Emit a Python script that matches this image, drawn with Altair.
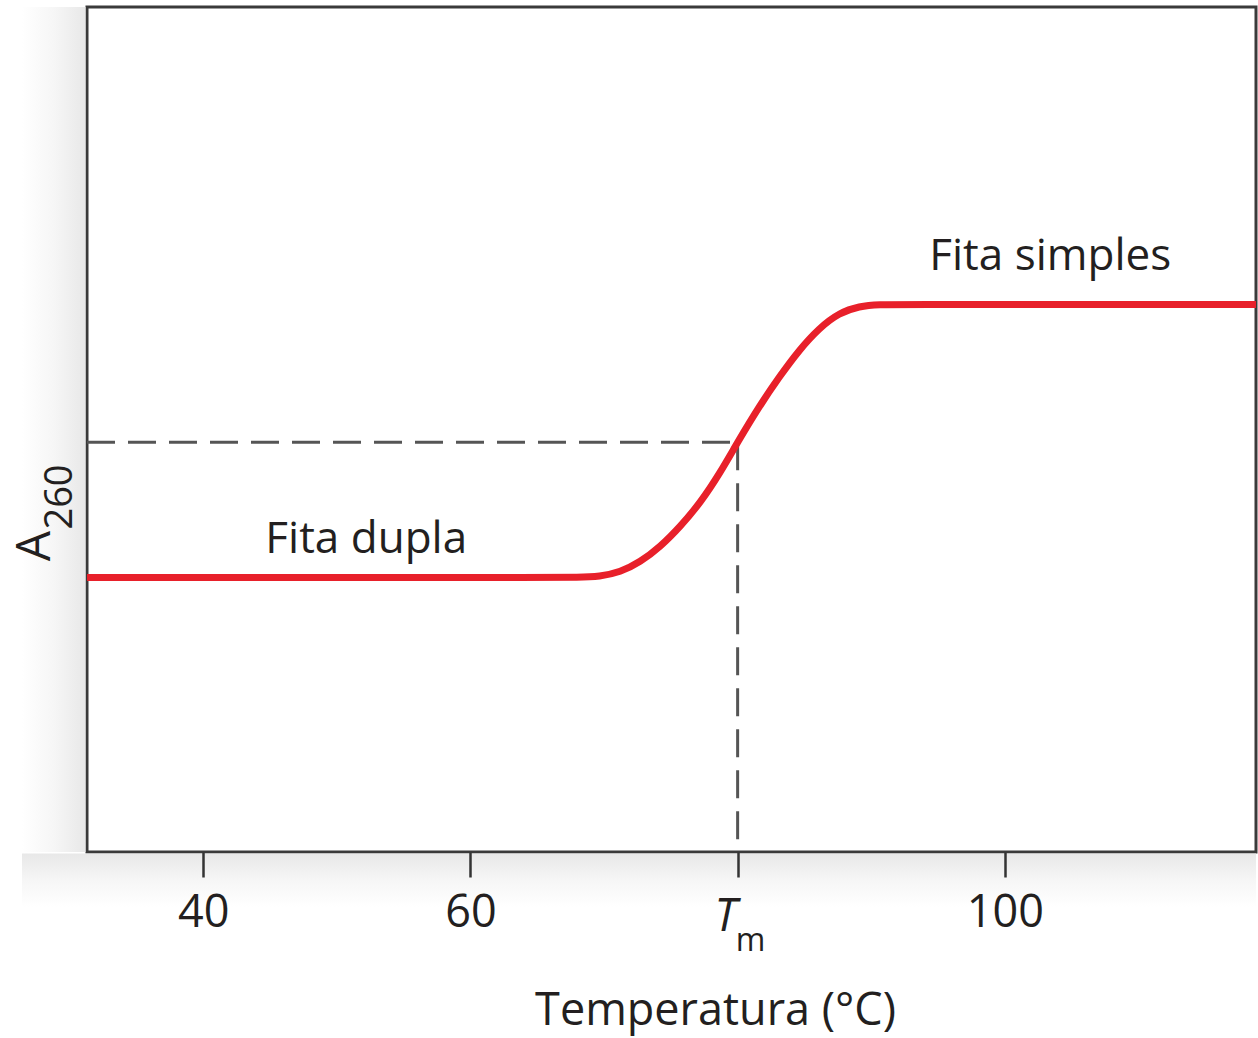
import altair as alt
import pandas as pd

# Melting curve (temperature in °C, A260 in relative units 0..1)
temps = [31.3, 50.0, 66.0, 68.0, 69.7, 71.2, 72.7, 74.2, 75.7, 77.2, 78.7, 80.0,
         81.6, 83.1, 84.6, 86.1, 87.6, 89.1, 90.6, 92.5, 105.0, 118.8]
a260 = [0.325, 0.325, 0.325, 0.325, 0.326, 0.331, 0.343, 0.361, 0.385, 0.413, 0.449, 0.485,
        0.527, 0.562, 0.594, 0.620, 0.638, 0.646, 0.648, 0.648, 0.648, 0.648]

x_domain = [31.3, 118.8]
tick_values = [40, 60, 80, 100]
tm_value = 80
a_mid = 0.485

label_texts = ["Fita dupla", "Fita simples"]
label_x = [52.2, 103.4]
label_y = [0.354, 0.689]

FONT = "Open Sans"
INK = "#231f20"
RED = "#e8202a"
W, H = 1169, 845

curve_df = pd.DataFrame({"T": temps, "A": a260})
guide_df = pd.DataFrame({"T0": [x_domain[0]], "Tm": [tm_value], "A": [a_mid], "A0": [0.0]})
lab_df = pd.DataFrame({"T": label_x, "A": label_y, "txt": label_texts})
one_df = pd.DataFrame({"T": [tm_value]})

xs = alt.Scale(domain=x_domain, nice=False, zero=False)
ys = alt.Scale(domain=[0, 1], nice=False, zero=False)

xaxis = alt.Axis(
    values=tick_values,
    labelExpr="datum.value == 80 ? '' : datum.label",
    tickSize=25, tickWidth=2.5, tickColor="#333333",
    labelFontSize=45, labelFont=FONT, labelColor=INK, labelPadding=13,
    domain=False, grid=False, zindex=1,
    title="Temperatura (°C)", titleFont=FONT, titleFontSize=45, titleFontWeight="normal",
    titleColor=INK, titleX=628, titleY=172, titleBaseline="alphabetic", titleAlign="center",
)
yaxis = alt.Axis(labels=False, ticks=False, domain=False, grid=False, title=None)

# soft drop shadow around the frame (left and bottom)
shadow_left = alt.Chart(one_df).mark_rect(
    color=alt.LinearGradient(
        gradient="linear", x1=0, x2=1, y1=0, y2=0,
        stops=[alt.GradientStop(color="#ffffff", offset=0),
               alt.GradientStop(color="#f6f6f6", offset=0.5),
               alt.GradientStop(color="#e8e8e8", offset=1)],
    )
).encode(x=alt.value(-65), x2=alt.value(-1.5), y=alt.value(0), y2=alt.value(H))

shadow_bottom = alt.Chart(one_df).mark_rect(
    color=alt.LinearGradient(
        gradient="linear", x1=0, x2=0, y1=0, y2=1,
        stops=[alt.GradientStop(color="#e8e8e8", offset=0),
               alt.GradientStop(color="#f6f6f6", offset=0.5),
               alt.GradientStop(color="#ffffff", offset=1)],
    )
).encode(x=alt.value(-65), x2=alt.value(W), y=alt.value(H + 1.5), y2=alt.value(H + 55))

curve = alt.Chart(curve_df).mark_line(
    color=RED, strokeWidth=7, interpolate="basis", clip=True
).encode(
    x=alt.X("T:Q", scale=xs, axis=xaxis),
    y=alt.Y("A:Q", scale=ys, axis=yaxis),
)

hdash = alt.Chart(guide_df).mark_rule(color="#555555", strokeWidth=3, strokeDash=[28, 13]).encode(
    x=alt.X("T0:Q", scale=xs), x2="Tm:Q", y=alt.Y("A:Q", scale=ys)
)
vdash = alt.Chart(guide_df).mark_rule(color="#555555", strokeWidth=3, strokeDash=[28, 13]).encode(
    x=alt.X("Tm:Q", scale=xs), y=alt.Y("A:Q", scale=ys), y2="A0:Q"
)

labels = alt.Chart(lab_df).mark_text(
    font=FONT, fontSize=44, color=INK, align="center", baseline="alphabetic"
).encode(x=alt.X("T:Q", scale=xs), y=alt.Y("A:Q", scale=ys), text="txt:N")

tm_T = alt.Chart(one_df).mark_text(
    text="T", font=FONT, fontSize=45, fontStyle="italic", color=INK, align="center",
    baseline="alphabetic", dx=-12
).encode(x=alt.X("T:Q", scale=xs), y=alt.value(H + 79))
tm_m = alt.Chart(one_df).mark_text(
    text="m", font=FONT, fontSize=32, color=INK, align="center", baseline="alphabetic", dx=13
).encode(x=alt.X("T:Q", scale=xs), y=alt.value(H + 99))

a_main = alt.Chart(one_df).mark_text(
    text="A", font=FONT, fontSize=48, color=INK, angle=270, align="center", baseline="alphabetic"
).encode(x=alt.value(-37), y=alt.value(539))
a_sub = alt.Chart(one_df).mark_text(
    text="260", font=FONT, fontSize=38, color=INK, angle=270, align="center", baseline="alphabetic"
).encode(x=alt.value(-15), y=alt.value(490))

chart = alt.layer(
    shadow_left, shadow_bottom, hdash, vdash, curve, labels, tm_T, tm_m, a_main, a_sub
).properties(
    width=W, height=H,
    autosize=alt.AutoSizeParams(type="none"),
    padding={"left": 87, "top": 7, "right": 2, "bottom": 186},
).configure_view(stroke="#3a3a3a", strokeWidth=3)

chart.save("out.html", embed_options={"renderer": "svg", "actions": False})
